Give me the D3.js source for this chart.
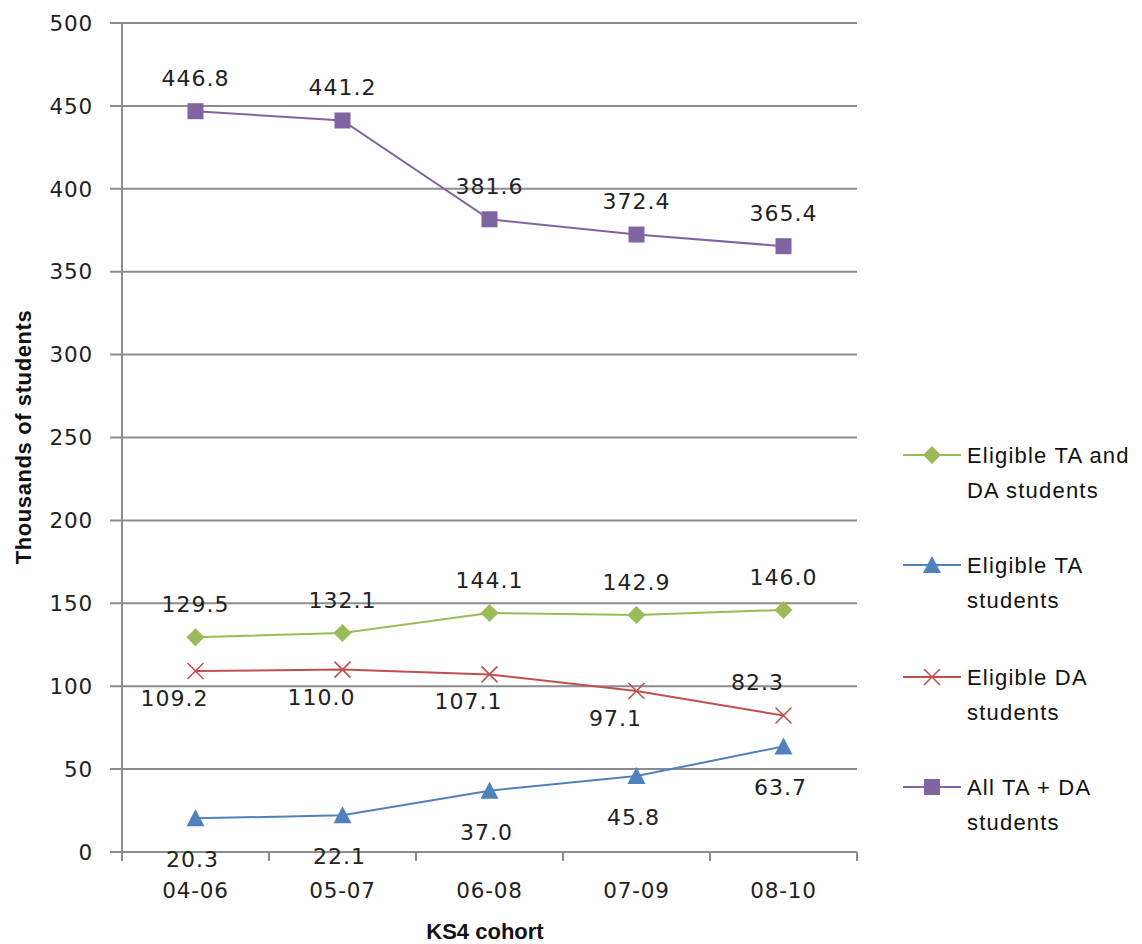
<!DOCTYPE html>
<html><head><meta charset="utf-8">
<script src="https://cdn.jsdelivr.net/npm/d3@7"></script>
<style>body{margin:0;background:#fff}svg{display:block}</style>
</head><body>
<svg id="c" width="1142" height="944"></svg>
<script>
const categories = ["04-06","05-07","06-08","07-09","08-10"];
const taAndDa = [129.5,132.1,144.1,142.9,146.0];
const taOnly = [20.3,22.1,37.0,45.8,63.7];
const daOnly = [109.2,110.0,107.1,97.1,82.3];
const allTaDa = [446.8,441.2,381.6,372.4,365.4];
const yTicks = [0,50,100,150,200,250,300,350,400,450,500];

const series = [
  {name:["Eligible TA and","DA students"], values:taAndDa, color:"#9BBB59", marker:"diamond", place:["a","a","a","a","a"], dx:0},
  {name:["Eligible TA","students"], values:taOnly, color:"#4F81BD", marker:"triangle", place:["b","b","b","b","b"], dx:-3},
  {name:["Eligible DA","students"], values:daOnly, color:"#C0504D", marker:"x", place:["b","b","b","b","a"], dx:-21},
  {name:["All TA + DA","students"], values:allTaDa, color:"#8064A2", marker:"square", place:["a","a","a","a","a"], dx:0}
];

const svg = d3.select("#c");
const x = d3.scaleBand().domain(categories).range([122,857]);
const y = d3.scaleLinear().domain([0,500]).range([852,23]);
const numFont = "DejaVu Sans, sans-serif";

svg.append("g").selectAll("line").data(yTicks).join("line")
  .attr("x1",110).attr("x2",857).attr("y1",d=>y(d)).attr("y2",d=>y(d))
  .attr("stroke","#8c8c8c").attr("stroke-width",2);
svg.append("line").attr("x1",122).attr("x2",122).attr("y1",y(500)).attr("y2",861)
  .attr("stroke","#8c8c8c").attr("stroke-width",2);
const bounds = categories.map(c=>x(c)).concat([x(categories[categories.length-1])+x.bandwidth()]);
svg.append("g").selectAll("line").data(bounds).join("line")
  .attr("x1",d=>d).attr("x2",d=>d).attr("y1",852).attr("y2",861)
  .attr("stroke","#8c8c8c").attr("stroke-width",2);
svg.append("g").selectAll("text").data(yTicks).join("text")
  .attr("x",93).attr("y",d=>y(d)).attr("dy","0.36em").attr("text-anchor","end")
  .attr("font-family",numFont).attr("font-size",21.5).attr("letter-spacing",0.8).attr("fill","#222").text(d=>d);
svg.append("g").selectAll("text").data(categories).join("text")
  .attr("x",d=>x(d)+x.bandwidth()/2).attr("y",890).attr("dy","0.36em").attr("text-anchor","middle")
  .attr("font-family",numFont).attr("font-size",21.5).attr("letter-spacing",0.8).attr("fill","#222").text(d=>d);
svg.append("text").attr("transform","translate(31,437) rotate(-90)").attr("text-anchor","middle")
  .attr("font-family","Liberation Sans, Arial, sans-serif").attr("font-weight","bold").attr("font-size",22)
  .attr("letter-spacing",0.6).attr("fill","#111").text("Thousands  of students");
svg.append("text").attr("x",485).attr("y",939).attr("text-anchor","middle")
  .attr("font-family","Liberation Sans, Arial, sans-serif").attr("font-weight","bold").attr("font-size",22)
  .attr("fill","#111").text("KS4 cohort");

function drawMarker(g, type, color){
  if(type==="diamond"){
    g.append("path").attr("d","M0,-9L9,0L0,9L-9,0Z").attr("fill",color);
  } else if(type==="triangle"){
    g.append("path").attr("d","M0,-9L9,8L-9,8Z").attr("fill",color);
  } else if(type==="square"){
    g.append("rect").attr("x",-8).attr("y",-8).attr("width",16).attr("height",16).attr("fill",color);
  } else if(type==="x"){
    g.append("path").attr("d","M-8,-8L8,8M-8,8L8,-8").attr("stroke",color).attr("stroke-width",1.6).attr("fill","none");
  }
}

const line = d3.line().x((d,i)=>x(categories[i])+x.bandwidth()/2).y(d=>y(d));
series.forEach(s=>{
  svg.append("path").datum(s.values).attr("d",line).attr("fill","none")
    .attr("stroke",s.color).attr("stroke-width",2);
  s.values.forEach((v,i)=>{
    const g = svg.append("g").attr("transform",`translate(${x(categories[i])+x.bandwidth()/2},${y(v)})`);
    drawMarker(g,s.marker,s.color);
  });
  svg.append("g").selectAll("text").data(s.values).join("text")
    .attr("x",(d,i)=>x(categories[i])+x.bandwidth()/2 + (s.place[i]==="a" && s.marker==="x" ? -26 : s.dx))
    .attr("y",(d,i)=>y(d) + (s.place[i]==="a" ? -33 : (s.marker==="triangle" ? 41 : 27)))
    .attr("dy","0.36em").attr("text-anchor","middle")
    .attr("font-family",numFont).attr("font-size",22).attr("letter-spacing",1).attr("fill","#222")
    .text(d=>d.toFixed(1));
});

const legY = [455,565,677,787];
series.forEach((s,i)=>{
  const ly = legY[i];
  svg.append("line").attr("x1",903).attr("x2",961).attr("y1",ly).attr("y2",ly)
    .attr("stroke",s.color).attr("stroke-width",2);
  const g = svg.append("g").attr("transform",`translate(932,${ly})`);
  drawMarker(g,s.marker,s.color);
  s.name.forEach((t,j)=>{
    svg.append("text").attr("x",967).attr("y",ly+j*35).attr("dy","0.36em")
      .attr("font-family","Liberation Sans, Arial, sans-serif").attr("font-size",22).attr("letter-spacing",1.2)
      .attr("fill","#111").text(t);
  });
});
</script>
</body></html>
